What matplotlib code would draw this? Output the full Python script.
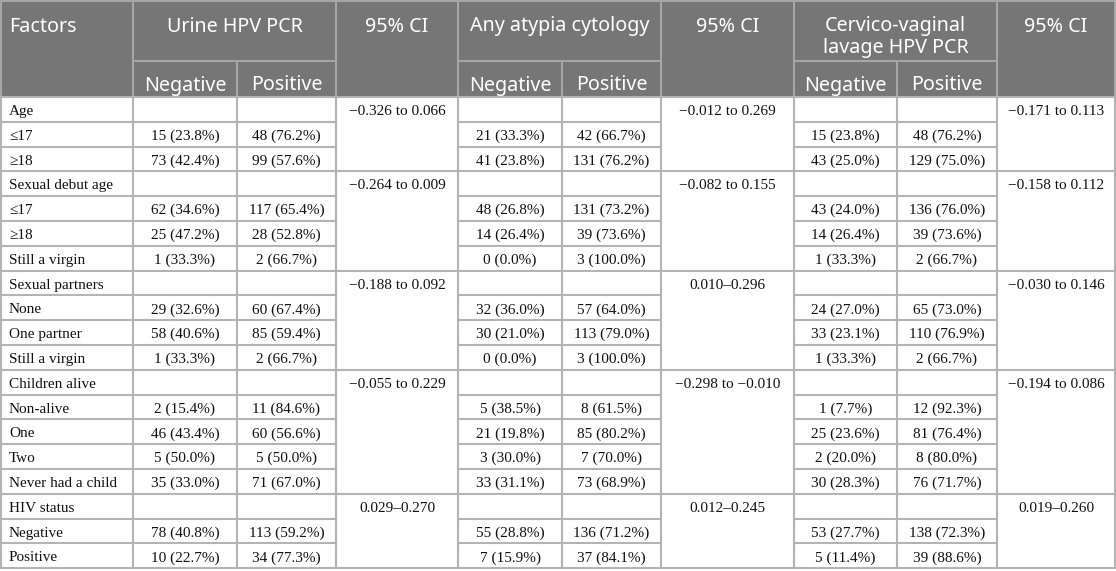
import matplotlib
matplotlib.use("Agg")
import matplotlib.pyplot as plt
from matplotlib.patches import Rectangle

# ---------------- data ----------------
group_names = ["Age", "Sexual debut age", "Sexual partners", "Children alive", "HIV status"]
group_levels = [
    ["≤17", "≥18"],
    ["≤17", "≥18", "Still a virgin"],
    ["None", "One partner", "Still a virgin"],
    ["Non-alive", "One", "Two", "Never had a child"],
    ["Negative", "Positive"],
]
ci_urine = ["−0.326 to 0.066", "−0.264 to 0.009", "−0.188 to 0.092", "−0.055 to 0.229", "0.029–0.270"]
ci_cytology = ["−0.012 to 0.269", "−0.082 to 0.155", "0.010–0.296", "−0.298 to −0.010", "0.012–0.245"]
ci_cvl = ["−0.171 to 0.113", "−0.158 to 0.112", "−0.030 to 0.146", "−0.194 to 0.086", "0.019–0.260"]

urine_neg = ["15 (23.8%)", "73 (42.4%)", "62 (34.6%)", "25 (47.2%)", "1 (33.3%)", "29 (32.6%)", "58 (40.6%)",
             "1 (33.3%)", "2 (15.4%)", "46 (43.4%)", "5 (50.0%)", "35 (33.0%)", "78 (40.8%)", "10 (22.7%)"]
urine_pos = ["48 (76.2%)", "99 (57.6%)", "117 (65.4%)", "28 (52.8%)", "2 (66.7%)", "60 (67.4%)", "85 (59.4%)",
             "2 (66.7%)", "11 (84.6%)", "60 (56.6%)", "5 (50.0%)", "71 (67.0%)", "113 (59.2%)", "34 (77.3%)"]
cyt_neg = ["21 (33.3%)", "41 (23.8%)", "48 (26.8%)", "14 (26.4%)", "0 (0.0%)", "32 (36.0%)", "30 (21.0%)",
           "0 (0.0%)", "5 (38.5%)", "21 (19.8%)", "3 (30.0%)", "33 (31.1%)", "55 (28.8%)", "7 (15.9%)"]
cyt_pos = ["42 (66.7%)", "131 (76.2%)", "131 (73.2%)", "39 (73.6%)", "3 (100.0%)", "57 (64.0%)", "113 (79.0%)",
           "3 (100.0%)", "8 (61.5%)", "85 (80.2%)", "7 (70.0%)", "73 (68.9%)", "136 (71.2%)", "37 (84.1%)"]
cvl_neg = ["15 (23.8%)", "43 (25.0%)", "43 (24.0%)", "14 (26.4%)", "1 (33.3%)", "24 (27.0%)", "33 (23.1%)",
           "1 (33.3%)", "1 (7.7%)", "25 (23.6%)", "2 (20.0%)", "30 (28.3%)", "53 (27.7%)", "5 (11.4%)"]
cvl_pos = ["48 (76.2%)", "129 (75.0%)", "136 (76.0%)", "39 (73.6%)", "2 (66.7%)", "65 (73.0%)", "110 (76.9%)",
           "2 (66.7%)", "12 (92.3%)", "81 (76.4%)", "8 (80.0%)", "76 (71.7%)", "138 (72.3%)", "39 (88.6%)"]

header_top = ["Factors", "Urine HPV PCR", "95% CI", "Any atypia cytology", "95% CI",
              "Cervico-vaginal\nlavage HPV PCR", "95% CI"]
header_sub = ["Negative", "Positive"]

# ---------------- layout ----------------
W, H = 1116, 571
col_x = [1, 133, 237, 336, 458, 562, 661, 794, 897, 997, 1115]
hdr_y0, hdr_y1, hdr_y2 = 1, 61, 97
row_h = 24.8

HEAD_BG = "#767676"
HEAD_LINE = "#a6a6a6"
BODY_LINE = "#b4b4b4"
LW = 1.5

fig = plt.figure(figsize=(W / 100, H / 100), dpi=100)
ax = fig.add_axes([0, 0, 1, 1])
ax.set_xlim(0, W)
ax.set_ylim(H, 0)
ax.axis("off")

hfont = dict(family=["Noto Sans", "DejaVu Sans"], size=14.2, color="white")
bfont = dict(family=["Liberation Serif", "DejaVu Serif"], size=11.0, color="#111111")


def hline(x0, x1, y, c):
    ax.plot([x0, x1], [y, y], color=c, lw=LW, solid_capstyle="projecting", zorder=2)


def vline(x, y0, y1, c):
    ax.plot([x, x], [y0, y1], color=c, lw=LW, solid_capstyle="projecting", zorder=2)


# header background
ax.add_patch(Rectangle((col_x[0], hdr_y0), col_x[-1] - col_x[0], hdr_y2 - hdr_y0,
                       facecolor=HEAD_BG, edgecolor="none", zorder=1))

# header grid
hline(col_x[0], col_x[-1], hdr_y0, HEAD_LINE)
for i, x in enumerate(col_x):
    if i in (2, 5, 8):
        vline(x, hdr_y1, hdr_y2, HEAD_LINE)
    else:
        vline(x, hdr_y0, hdr_y2, HEAD_LINE)
for a, b in [(1, 3), (4, 6), (7, 9)]:
    hline(col_x[a], col_x[b], hdr_y1, HEAD_LINE)

# header texts
top_cells = [(0, 1), (1, 3), (3, 4), (4, 6), (6, 7), (7, 9), (9, 10)]
for (a, b), txt in zip(top_cells, header_top):
    for k, ln in enumerate(txt.split("\n")):
        y = 31.5 + k * 22
        if a == 0:
            ax.text(col_x[0] + 8, y, ln, ha="left", va="baseline", zorder=4, **hfont)
        else:
            ax.text((col_x[a] + col_x[b]) / 2, y, ln, ha="center", va="baseline", zorder=4, **hfont)
for a in [1, 4, 7]:
    for k, s in enumerate(header_sub):
        ax.text((col_x[a + k] + col_x[a + k + 1]) / 2, 90.5, s, ha="center", va="baseline", zorder=4, **hfont)

# body
value_cols = [(1, urine_neg), (2, urine_pos), (4, cyt_neg), (5, cyt_pos), (7, cvl_neg), (8, cvl_pos)]
ci_cols = [(3, ci_urine), (6, ci_cytology), (9, ci_cvl)]
segments = [(0, 3), (4, 6), (7, 9)]  # non-merged column spans

r = 0
vi = 0
for g, name in enumerate(group_names):
    labels = [name] + group_levels[g]
    n = len(labels)
    g_y0 = hdr_y2 + r * row_h
    g_y1 = g_y0 + n * row_h
    for i, lab in enumerate(labels):
        y0 = g_y0 + i * row_h
        yb = y0 + 18.0
        ax.text(col_x[0] + 8, yb, lab, ha="left", va="baseline", **bfont)
        if i > 0:
            for c, vals in value_cols:
                ax.text((col_x[c] + col_x[c + 1]) / 2, yb, vals[vi], ha="center", va="baseline", **bfont)
            vi += 1
            for a, b in segments:
                hline(col_x[a], col_x[b], y0, BODY_LINE)
    for c, vals in ci_cols:
        ax.text((col_x[c] + col_x[c + 1]) / 2, g_y0 + 18.0, vals[g], ha="center", va="baseline", **bfont)
    hline(col_x[0], col_x[-1], g_y1, BODY_LINE)
    r += n

body_bottom = hdr_y2 + r * row_h
for x in col_x:
    vline(x, hdr_y2, body_bottom, BODY_LINE)
hline(col_x[0], col_x[-1], hdr_y2, BODY_LINE)

fig.savefig("out.png", dpi=100)
